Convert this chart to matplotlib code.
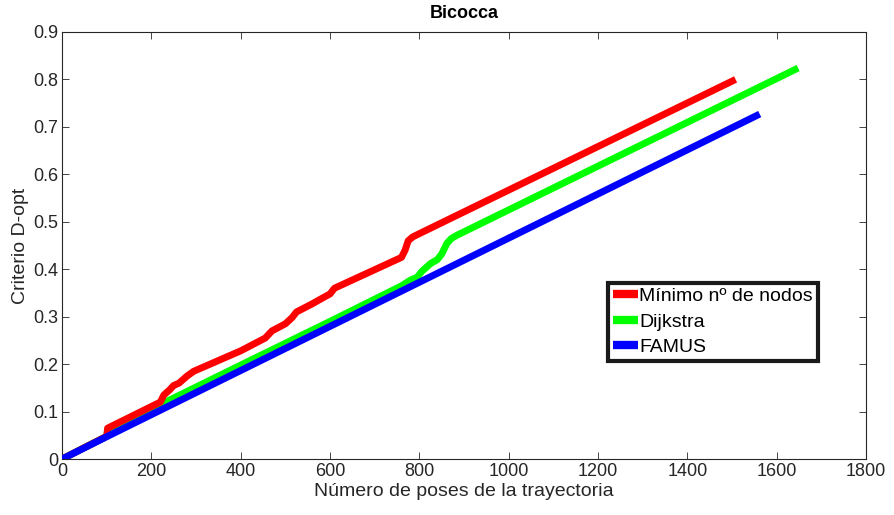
import matplotlib
matplotlib.use('Agg')
import matplotlib.pyplot as plt

plt.rcParams['font.family'] = ['Liberation Sans', 'DejaVu Sans']

# criterio D-opt frente al numero de poses
x_min_nodos = [0, 100, 102, 220, 228, 240, 250, 262, 280, 295, 400, 455, 470, 500, 515, 525, 560, 575, 600, 610, 760, 768, 775, 785, 800, 1508]
y_min_nodos = [0, 0.048, 0.065, 0.12, 0.135, 0.145, 0.155, 0.16, 0.175, 0.185, 0.228, 0.255, 0.27, 0.285, 0.298, 0.31, 0.327, 0.335, 0.348, 0.36, 0.425, 0.44, 0.46, 0.468, 0.475, 0.80]

x_dijkstra = [0, 100, 102, 400, 600, 760, 780, 795, 805, 825, 840, 850, 862, 872, 885, 1648]
y_dijkstra = [0, 0.048, 0.060, 0.198, 0.29, 0.365, 0.377, 0.383, 0.395, 0.412, 0.42, 0.432, 0.455, 0.465, 0.472, 0.824]

x_famus = [0, 100, 1562]
y_famus = [0, 0.047, 0.727]

fig = plt.figure(figsize=(8.94, 5.15), dpi=100)
ax = fig.add_axes([0.0694, 0.1087, 0.8993, 0.8292])

lw = 5
ax.plot(x_min_nodos, y_min_nodos, color='#ff0000', lw=lw, solid_capstyle='butt', label='Mínimo nº de nodos', zorder=3)
ax.plot(x_dijkstra, y_dijkstra, color='#00ff00', lw=lw, solid_capstyle='butt', label='Dijkstra', zorder=2)
ax.plot(x_famus, y_famus, color='#0000ff', lw=lw, solid_capstyle='butt', label='FAMUS', zorder=4)

ax.set_xlim(0, 1800)
ax.set_ylim(0, 0.9)
ax.set_xticks(range(0, 1801, 200))
ax.set_yticks([i / 10 for i in range(10)])
ax.set_yticklabels(['0'] + ['%.1f' % (i / 10) for i in range(1, 10)])

for s in ax.spines.values():
    s.set_color('#262626')
    s.set_linewidth(0.8)
ax.tick_params(direction='in', top=True, right=True, length=5, width=0.6,
               color='#262626', labelsize=13, labelcolor='#262626', pad=3)

ax.set_title('Bicocca', fontsize=13, fontweight='bold', pad=10)
ax.set_xlabel('Número de poses de la trayectoria', fontsize=14, color='#262626', labelpad=2)
ax.set_ylabel('Criterio D-opt', fontsize=14, color='#262626', labelpad=3)

leg = ax.legend(loc='upper left', bbox_to_anchor=(0.679, 0.413), fontsize=14,
                frameon=True, fancybox=False, framealpha=1, handlelength=1.3, handletextpad=0.05,
                borderpad=0.25, labelspacing=0.4, borderaxespad=0)
leg.get_frame().set_edgecolor('#1a1a1a')
leg.get_frame().set_linewidth(3)
for h in leg.get_lines():
    h.set_linewidth(6)

fig.savefig('out.png', dpi=100)
